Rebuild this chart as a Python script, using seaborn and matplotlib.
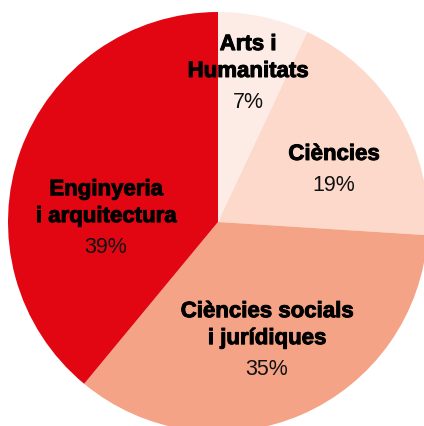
# Dades i visualització
# -----------------------------------------------------------------------
import matplotlib
matplotlib.use("Agg")
import matplotlib.pyplot as plt
import matplotlib.patheffects as pe
import seaborn as sns

# Dades del gràfic
# -----------------------------------------------------------------------
arees = ["Arts i\nHumanitats", "Ciències", "Ciències socials\ni jurídiques",
         "Enginyeria\ni arquitectura"]
percentatges = [7, 19, 35, 39]
colors = ["#fdebe5", "#fcd9ca", "#f5a386", "#e20613"]

# posicio (base del percentatge) de cada etiqueta, en unitats del radi
pos_etiquetes = [(0.143, 0.543), (0.552, 0.148), (0.233, -0.729), (-0.533, -0.148)]

sns.set_theme(style="white")
plt.rcParams["font.family"] = ["Liberation Sans", "DejaVu Sans"]

fig = plt.figure(figsize=(4.24, 4.26), dpi=100)
ax = fig.add_axes([0, 0, 1, 1])

ax.pie(percentatges, colors=colors, startangle=90, counterclock=False,
       radius=1, wedgeprops=dict(linewidth=0, antialiased=True))

gruix = [pe.withStroke(linewidth=0.7, foreground="#000000")]

for nom, pct, (x, y) in zip(arees, percentatges, pos_etiquetes):
    ax.annotate(f"{pct}%", (x, y), ha="center", va="baseline",
                fontsize=15.5, color="#111111")
    linies = nom.split("\n")
    for k, linia in enumerate(reversed(linies)):
        ax.annotate(linia, (x, y), xytext=(0, 22.3 + 19.4 * k),
                    textcoords="offset points", ha="center", va="baseline",
                    fontsize=16, fontweight="bold", color="#000000",
                    path_effects=gruix)

ax.set_aspect("auto")
ax.set_xlim(-218 / 210, 206 / 210)
ax.set_ylim(-204 / 210, 222 / 210)
ax.axis("off")

fig.savefig("out.png", dpi=100)
